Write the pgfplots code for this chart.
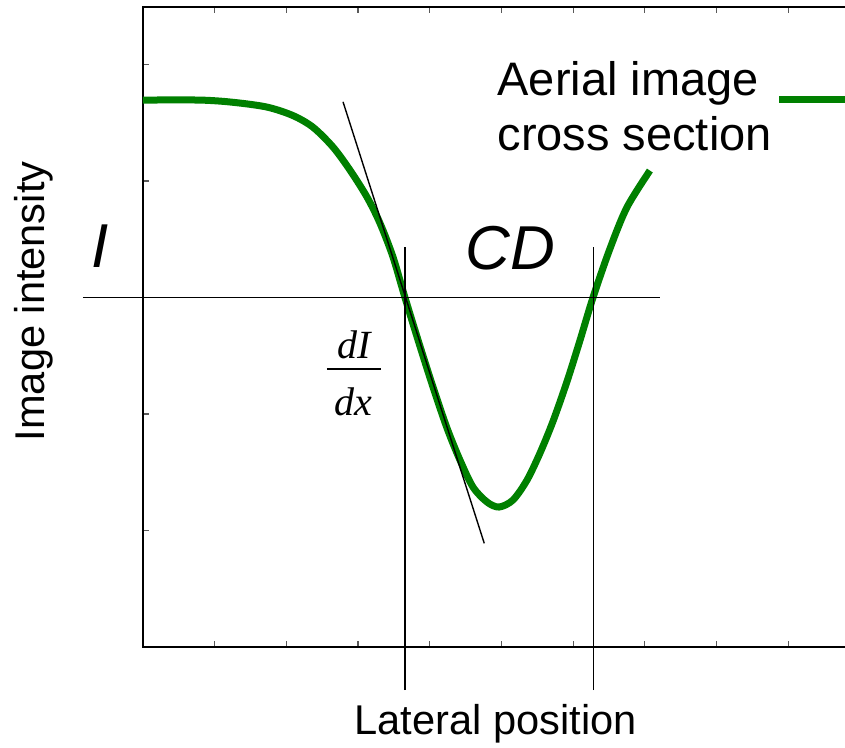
\documentclass[border=0pt]{standalone}
\usepackage{pgfplots}
\pgfplotsset{compat=1.18}
\usepackage{fontspec}
\setmainfont{Liberation Sans}
\newfontfamily\tms{Liberation Serif}
\definecolor{curvegreen}{RGB}{0,128,0}

\begin{document}
\begin{tikzpicture}
\begin{axis}[
  x=35.85pt, y=58.25pt,
  xmin=0, xmax=10, ymin=0, ymax=5.494,
  xtick={1,...,9}, ytick={1,...,5},
  xticklabels={}, yticklabels={},
  tick align=inside,
  major tick length=3pt,
  tick style={black!65, line width=0.6pt},
  axis line style={line width=1.2pt},
  clip=false,
  xlabel={Lateral position}, ylabel={Image intensity},
  label style={font=\fontsize{20.8}{24}\selectfont},
  xlabel style={at={(axis description cs:0.492,-0.12)}, anchor=center},
  ylabel style={at={(axis description cs:-0.153,0.54)}, anchor=center},
  legend plot pos=right,
  legend cell align=left,
  legend style={draw=none, fill=none, at={(axis cs:4.80,5.10)}, anchor=north west,
    font=\fontsize{23.5}{27.5}\selectfont, cells={align=left}},
  legend image code/.code={\draw[#1] (6pt,4pt) -- (42pt,4pt);},
]
% aerial image intensity profile
\addplot[curvegreen, line width=3.5pt, smooth, tension=0.5] coordinates {
  (0,4.695) (0.795,4.695) (1.255,4.676) (1.729,4.635) (2.092,4.562)
  (2.371,4.462) (2.650,4.292) (2.887,4.094) (3.124,3.863) (3.305,3.639)
  (3.487,3.348) (3.654,3.000) (3.849,2.610) (4.045,2.232) (4.240,1.880)
  (4.421,1.605) (4.603,1.373) (4.798,1.245) (4.965,1.202) (5.160,1.262)
  (5.356,1.433) (5.537,1.665) (5.718,1.937) (5.914,2.280) (6.095,2.633)
  (6.276,3.000) (6.513,3.420) (6.750,3.775) (7.070,4.090)
};
\addlegendentry{Aerial image\\cross section}
% threshold level
\addplot[black, line width=0.75pt, forget plot] coordinates {(-0.837,3) (7.21,3)};
% edges of the printed feature
\addplot[black, line width=0.75pt, forget plot] coordinates {(3.654,-0.37) (3.654,3.43)};
\addplot[black, line width=0.75pt, forget plot] coordinates {(6.28,-0.37) (6.28,3.43)};
% slope at the left edge
\addplot[black, line width=0.7pt, forget plot] coordinates {(2.79,4.68) (4.76,0.89)};

\node[font=\fontsize{31}{31}\selectfont\itshape] at (axis cs:-0.60,3.44) {I};
\node[font=\fontsize{31}{31}\selectfont\itshape] at (axis cs:5.12,3.42) {CD};
\node[font=\fontsize{20}{24}\selectfont\tms\itshape, align=center] at (axis cs:2.94,2.35)
  {dI\\[-18pt]\rule{27pt}{1pt}\\[-1.5pt]dx};

\coordinate (bbl) at (axis cs:-1.994,-0.858);
\coordinate (btr) at (axis cs:9.791,5.554);
\end{axis}
\pgfresetboundingbox
\path[use as bounding box] (bbl) rectangle (btr);
\end{tikzpicture}
\end{document}
